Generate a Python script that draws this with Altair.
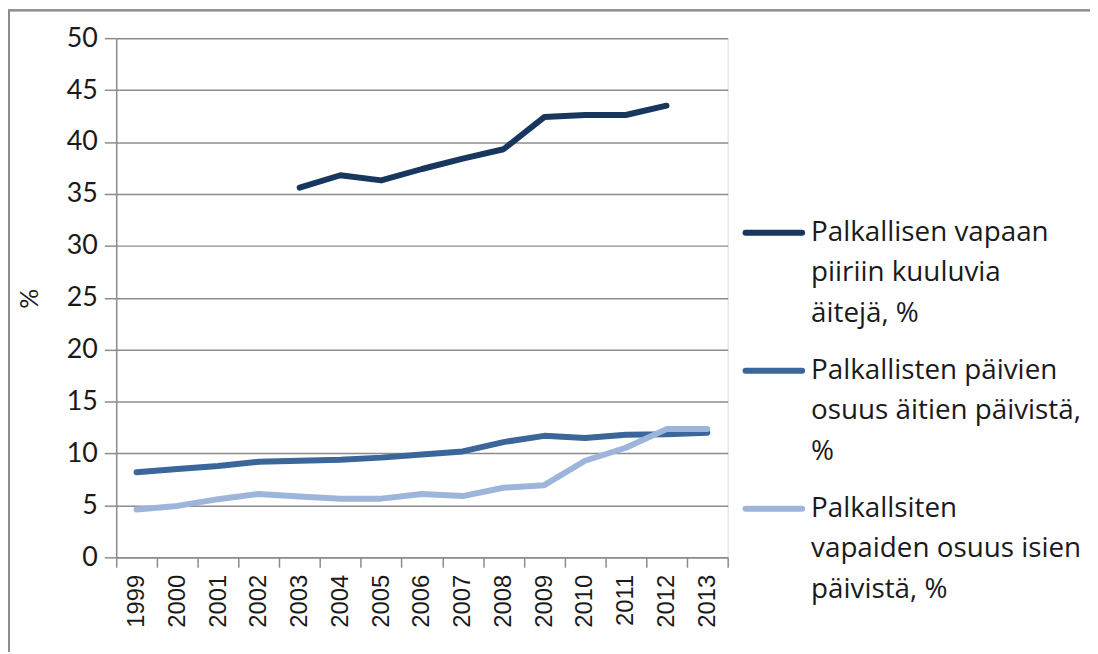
import altair as alt
import pandas as pd

years = ["1999", "2000", "2001", "2002", "2003", "2004", "2005", "2006",
         "2007", "2008", "2009", "2010", "2011", "2012", "2013"]

names = [
    "Palkallisen vapaan piiriin kuuluvia äitejä, %",
    "Palkallisten päivien osuus äitien päivistä, %",
    "Palkallsiten vapaiden osuus isien päivistä, %",
]
legend_labels = [
    "Palkallisen vapaan|piiriin kuuluvia|äitejä, %",
    "Palkallisten päivien|osuus äitien päivistä,|%",
    "Palkallsiten|vapaiden osuus isien|päivistä, %",
]

aidit_piirissa = [None, None, None, None, 35.6, 36.8, 36.3, 37.4, 38.4, 39.3,
                  42.4, 42.6, 42.6, 43.5, None]
paivat_aidit = [8.2, 8.5, 8.8, 9.2, 9.3, 9.4, 9.6, 9.9, 10.2, 11.1,
                11.7, 11.5, 11.8, 11.85, 12.0]
vapaat_isat = [4.6, 4.95, 5.6, 6.1, 5.85, 5.65, 5.65, 6.1, 5.9, 6.7,
               6.95, 9.3, 10.55, 12.35, 12.35]

colors = ["#17375E", "#3A6699", "#9DB5DB"]
y_ticks = [0, 5, 10, 15, 20, 25, 30, 35, 40, 45, 50]

rows = []
for name, vals in zip(names, [aidit_piirissa, paivat_aidit, vapaat_isat]):
    for yr, v in zip(years, vals):
        rows.append({"year": yr, "series": name, "value": v})
df = pd.DataFrame(rows)

leg_df = pd.DataFrame({"series": names, "label": legend_labels,
                       "idx": list(range(len(names)))})

color_scale = alt.Scale(domain=names, range=colors)
grid_col = "#8C8C8C"
text_col = "#1a1a1a"

lines = alt.Chart(df).mark_line(
    strokeWidth=6, strokeCap="round", strokeJoin="round"
).encode(
    x=alt.X(
        "year:O", sort=years,
        scale=alt.Scale(type="band", paddingInner=0, paddingOuter=0),
        axis=alt.Axis(
            title=None, labelAngle=-90, labelAlign="right", labelBaseline="middle",
            tickBand="extent", tickSize=10, tickColor=grid_col, tickWidth=1.5,
            domainColor=grid_col, domainWidth=1.5, labelPadding=7,
            labelFont="Liberation Sans", labelFontSize=24, labelColor=text_col,
        ),
    ),
    y=alt.Y(
        "value:Q",
        scale=alt.Scale(domain=[0, 50], nice=False),
        axis=alt.Axis(
            values=y_ticks, title="%", grid=True, gridColor=grid_col, gridWidth=1.5,
            tickSize=12, tickColor=grid_col, tickWidth=1.5,
            domainColor=grid_col, domainWidth=1.5, labelPadding=7,
            labelFont="Lato", labelFontSize=27, labelColor=text_col,
            titleFont="Lato", titleFontSize=25, titleFontWeight="normal",
            titleColor=text_col, titleX=-87, titleY=262, titleAngle=-90,
            titleAlign="center", titleBaseline="middle",
        ),
    ),
    color=alt.Color("series:N", scale=color_scale, legend=None),
)

leg_y = alt.Y("idx:Q", scale=alt.Scale(domain=[0, 2], range=[196, 474]), axis=None)

leg_rules = alt.Chart(leg_df).mark_rule(strokeWidth=6, strokeCap="round").encode(
    x=alt.value(634), x2=alt.value(691),
    y=leg_y,
    color=alt.Color("series:N", scale=color_scale, legend=None),
)

leg_text = alt.Chart(leg_df).transform_calculate(
    lines="split(datum.label, '|')"
).mark_text(
    align="left", baseline="middle", lineHeight=41, font="Open Sans", fontSize=28,
    color=text_col
).encode(
    x=alt.value(700),
    y=leg_y,
    text=alt.Text("lines:N"),
)

frame_top = alt.Chart(leg_df).mark_rule(color="#8C8C8C", strokeWidth=2).encode(
    x=alt.value(-109), x2=alt.value(981), y=alt.value(-28)
)
frame_left = alt.Chart(leg_df).mark_rule(color="#8C8C8C", strokeWidth=2).encode(
    x=alt.value(-108), y=alt.value(-28), y2=alt.value(618)
)

chart = alt.layer(lines, leg_rules, leg_text, frame_top, frame_left).resolve_scale(
    y="independent"
).properties(
    width=616, height=523,
    autosize=alt.AutoSizeParams(type="none"),
    padding={"left": 109, "top": 28, "right": 365, "bottom": 95},
).configure_view(stroke=None).configure(background="white")

chart.save("out.html", embed_options={"renderer": "svg", "actions": False})
